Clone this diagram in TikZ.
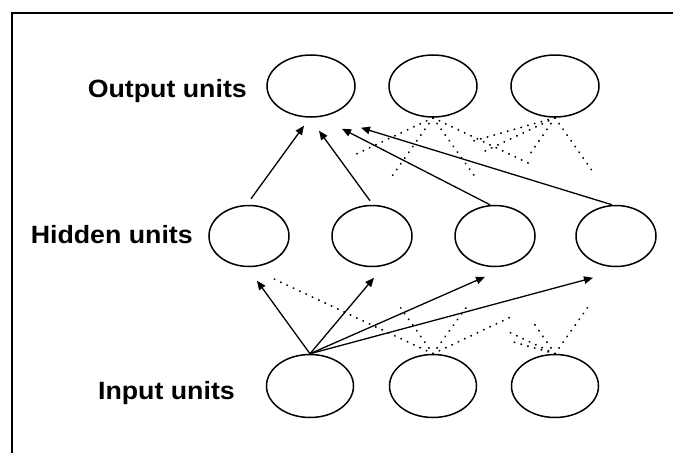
\documentclass[tikz,border=0pt]{standalone}
\usepackage{fontspec}
\setmainfont{Liberation Sans}
\usetikzlibrary{shapes.geometric,arrows.meta,calc}

\begin{document}
\begin{tikzpicture}[x=1pt,y=-1pt,
  unit/.style={draw,ellipse,line width=1.5pt,inner sep=0pt},
  outunit/.style={unit,minimum width=88pt,minimum height=62pt},
  hidunit/.style={unit,minimum width=80pt,minimum height=61pt},
  inunit/.style={unit,minimum width=87pt,minimum height=63pt},
  layerlabel/.style={anchor=base east,inner sep=0pt,xscale=1.07,
    font=\bfseries\fontsize{25}{30}\selectfont},
  link/.style={line width=1.3pt,-{Triangle[length=9pt,width=7.5pt]}},
  dotlink/.style={line width=1.9pt,line cap=round,dash pattern=on 0.3pt off 6.7pt},
  frameline/.style={line width=2.3pt}]
\useasboundingbox (0,0) rectangle (673,453);

% frame
\draw[frameline] (12,453) -- (12,13) -- (673,13);

% units
\node[outunit] (o1) at (311,86) {};
\node[outunit] (o2) at (433,86) {};
\node[outunit] (o3) at (555,86) {};
\node[hidunit] (h1) at (249,236) {};
\node[hidunit] (h2) at (372,236) {};
\node[hidunit] (h3) at (495,236) {};
\node[hidunit] (h4) at (616,236) {};
\node[inunit] (i1) at (310,386) {};
\node[inunit] (i2) at (433,386) {};
\node[inunit] (i3) at (555,386) {};

% layer labels
\node[layerlabel] (lo) at (247,97.5) {Output units};
\node[layerlabel] (lh) at (193,243) {Hidden units};
\node[layerlabel] (li) at (235,399) {Input units};

% arrow end points near the first output unit
\coordinate (oa) at ($(o1.south)+(-7,8)$);
\coordinate (ob) at ($(o1.south)+(8,13)$);
\coordinate (oc) at ($(o1.south)+(31,11)$);
\coordinate (od) at ($(o1.south)+(50,10)$);
% arrow end points below the hidden units
\coordinate (ha) at ($(h1.south)+(8,13.5)$);
\coordinate (hb) at ($(h2.south)+(2,10.5)$);
\coordinate (hc) at ($(h3.south)+(-10,9.5)$);
\coordinate (hd) at ($(h4.south)+(-23,10.5)$);

% hidden -> first output unit
\draw[link] ($(h1.north)+(2,-6)$) -- (oa);
\draw[link] ($(h2.north)+(-2,-4)$) -- (ob);
\draw[link] ($(h3.north)+(-5,0)$) -- (oc);
\draw[link] ($(h4.north)+(-4,0)$) -- (od);

% first input unit -> hidden
\draw[link] (i1.north) -- (ha);
\draw[link] (i1.north) -- (hb);
\draw[link] (i1.north) -- (hc);
\draw[link] (i1.north) -- (hd);

% remaining connections, hinted
\draw[dotlink] (o2.south) -- ($(o2.south)!0.42!(h1.north)$);
\draw[dotlink] (o2.south) -- ($(o2.south)!0.68!(h2.north)$);
\draw[dotlink] (o2.south) -- ($(o2.south)!0.70!(h3.north)$);
\draw[dotlink] (o2.south) -- ($(o2.south)!0.55!(h4.north)$);
\draw[dotlink] (o3.south) -- ($(o3.south)!0.28!(h1.north)$);
\draw[dotlink] (o3.south) -- ($(o3.south)!0.39!(h2.north)$);
\draw[dotlink] (o3.south) -- ($(o3.south)!0.45!(h3.north)$);
\draw[dotlink] (o3.south) -- ($(o3.south)!0.65!(h4.north)$);

\draw[dotlink] (i2.north) -- ($(i2.north)!0.87!(h1.south)$);
\draw[dotlink] (i2.north) -- ($(i2.north)!0.53!(h2.south)$);
\draw[dotlink] (i2.north) -- ($(i2.north)!0.58!(h3.south)$);
\draw[dotlink] (i2.north) -- ($(i2.north)!0.42!(h4.south)$);
\draw[dotlink] (i3.north) -- ($(i3.north)!0.15!(h1.south)$);
\draw[dotlink] (i3.north) -- ($(i3.north)!0.27!(h2.south)$);
\draw[dotlink] (i3.north) -- ($(i3.north)!0.36!(h3.south)$);
\draw[dotlink] (i3.north) -- ($(i3.north)!0.55!(h4.south)$);
\end{tikzpicture}
\end{document}
